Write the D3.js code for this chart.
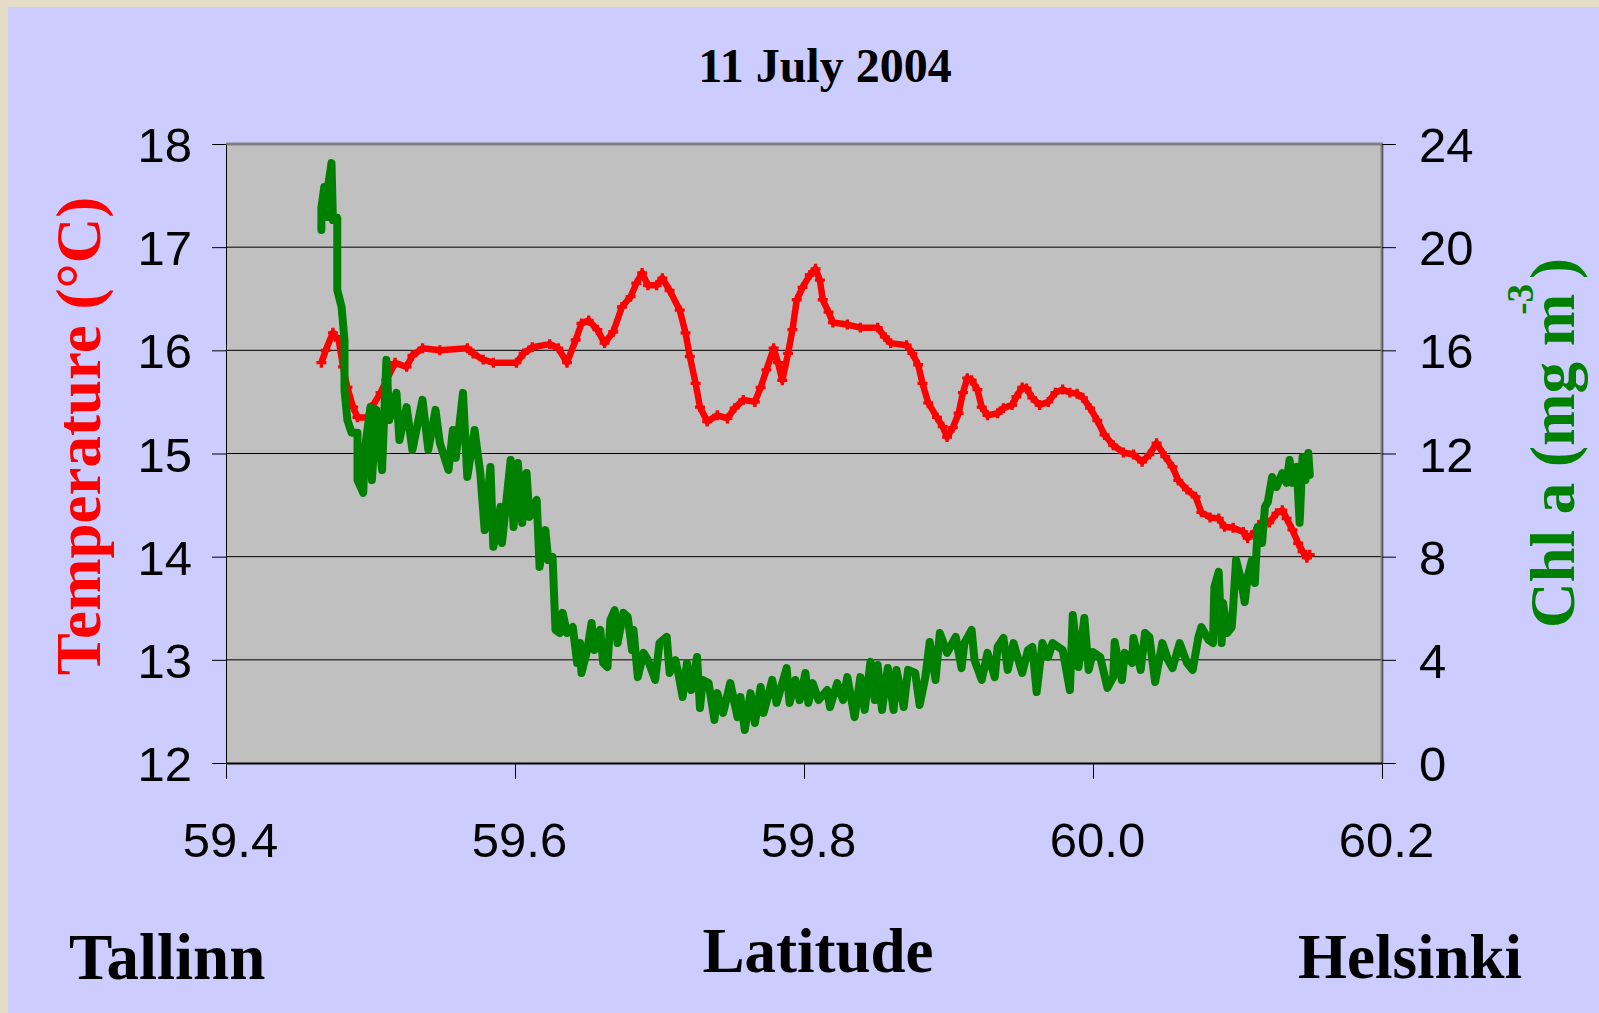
<!DOCTYPE html>
<html lang="en">
<head>
<meta charset="UTF-8">
<title>11 July 2004 - Temperature and Chl a, Tallinn - Helsinki</title>
<script src="https://d3js.org/d3.v7.min.js"></script>
<style>
    body { margin: 0; background: #e4dcc8; }
    svg { display: block; }
    .serif { font-family: "Liberation Serif", "Times New Roman", serif; font-weight: bold; }
    .tick text { font-family: "Liberation Sans", Arial, sans-serif; font-size: 49px; fill: #000; }
</style>
</head>
<body>
<div id="chart"></div>
<script>
// temperature along the ferry track (latitude, deg C)
const tempLat = [
    59.466, 59.469, 59.474, 59.478, 59.481, 59.484, 59.488, 59.491, 59.498, 59.501,
    59.507, 59.511, 59.517, 59.525, 59.529, 59.536, 59.548, 59.567, 59.571, 59.578,
    59.585, 59.601, 59.606, 59.612, 59.624, 59.630, 59.636, 59.642, 59.646, 59.651,
    59.657, 59.662, 59.668, 59.674, 59.680, 59.684, 59.688, 59.692, 59.698, 59.702,
    59.707, 59.714, 59.718, 59.721, 59.725, 59.728, 59.733, 59.740, 59.747, 59.752,
    59.758, 59.766, 59.770, 59.774, 59.779, 59.782, 59.785, 59.789, 59.792, 59.795,
    59.799, 59.804, 59.808, 59.811, 59.813, 59.817, 59.820, 59.830, 59.839, 59.851,
    59.856, 59.860, 59.871, 59.875, 59.879, 59.882, 59.886, 59.892, 59.896, 59.899,
    59.903, 59.907, 59.910, 59.913, 59.916, 59.920, 59.923, 59.927, 59.934, 59.938,
    59.944, 59.947, 59.951, 59.954, 59.958, 59.963, 59.969, 59.974, 59.979, 59.984,
    59.989, 59.993, 59.998, 60.003, 60.008, 60.014, 60.021, 60.028, 60.034, 60.039,
    60.044, 60.050, 60.055, 60.059, 60.065, 60.071, 60.075, 60.081, 60.087, 60.091,
    60.097, 60.104, 60.107, 60.112, 60.117, 60.122, 60.127, 60.131, 60.134, 60.138,
    60.142, 60.145, 60.148, 60.150
];
const tempVal = [
    15.88, 16.00, 16.17, 16.10, 15.84, 15.64, 15.45, 15.35, 15.35, 15.45,
    15.59, 15.71, 15.88, 15.84, 15.95, 16.02, 16.00, 16.02, 15.97, 15.91,
    15.88, 15.88, 15.97, 16.03, 16.06, 16.02, 15.88, 16.10, 16.26, 16.29,
    16.20, 16.07, 16.18, 16.42, 16.52, 16.65, 16.75, 16.63, 16.63, 16.70,
    16.58, 16.39, 16.17, 15.94, 15.68, 15.45, 15.31, 15.37, 15.34, 15.44,
    15.52, 15.50, 15.64, 15.81, 16.02, 15.88, 15.71, 15.97, 16.20, 16.49,
    16.61, 16.73, 16.79, 16.68, 16.49, 16.37, 16.27, 16.25, 16.22, 16.22,
    16.13, 16.07, 16.05, 15.97, 15.86, 15.68, 15.49, 15.35, 15.26, 15.16,
    15.25, 15.39, 15.59, 15.73, 15.71, 15.62, 15.45, 15.37, 15.39, 15.44,
    15.47, 15.55, 15.64, 15.63, 15.54, 15.47, 15.50, 15.59, 15.62, 15.59,
    15.58, 15.54, 15.44, 15.32, 15.18, 15.08, 15.01, 14.99, 14.92, 14.99,
    15.10, 14.97, 14.87, 14.74, 14.65, 14.58, 14.43, 14.38, 14.37, 14.29,
    14.28, 14.24, 14.18, 14.24, 14.34, 14.33, 14.42, 14.45, 14.37, 14.26,
    14.13, 14.05, 13.99, 14.02
];

// chlorophyll a along the same track (latitude, mg m-3)
const chlLat = [
    59.466, 59.466, 59.468, 59.470, 59.471, 59.473, 59.474, 59.477, 59.477, 59.480,
    59.482, 59.482, 59.484, 59.487, 59.491, 59.491, 59.495, 59.496, 59.500, 59.501,
    59.504, 59.508, 59.511, 59.513, 59.518, 59.520, 59.525, 59.529, 59.536, 59.540,
    59.545, 59.548, 59.554, 59.557, 59.559, 59.564, 59.567, 59.572, 59.576, 59.579,
    59.583, 59.585, 59.590, 59.591, 59.597, 59.599, 59.602, 59.605, 59.608, 59.610,
    59.615, 59.617, 59.621, 59.623, 59.626, 59.628, 59.631, 59.633, 59.636, 59.640,
    59.643, 59.645, 59.646, 59.650, 59.653, 59.655, 59.659, 59.661, 59.664, 59.666,
    59.669, 59.671, 59.675, 59.678, 59.681, 59.682, 59.685, 59.689, 59.692, 59.697,
    59.700, 59.705, 59.707, 59.711, 59.713, 59.716, 59.719, 59.722, 59.726, 59.728,
    59.730, 59.734, 59.738, 59.740, 59.744, 59.749, 59.754, 59.756, 59.759, 59.763,
    59.766, 59.770, 59.772, 59.778, 59.781, 59.785, 59.788, 59.790, 59.794, 59.797,
    59.801, 59.803, 59.806, 59.810, 59.816, 59.818, 59.823, 59.827, 59.830, 59.835,
    59.839, 59.842, 59.846, 59.849, 59.851, 59.854, 59.858, 59.862, 59.864, 59.869,
    59.872, 59.877, 59.880, 59.884, 59.887, 59.891, 59.894, 59.899, 59.905, 59.909,
    59.911, 59.916, 59.918, 59.923, 59.927, 59.932, 59.934, 59.938, 59.941, 59.945,
    59.951, 59.955, 59.958, 59.961, 59.965, 59.969, 59.972, 59.979, 59.984, 59.986,
    59.990, 59.994, 59.997, 60.000, 60.005, 60.010, 60.014, 60.015, 60.020, 60.022,
    60.027, 60.028, 60.033, 60.036, 60.039, 60.043, 60.048, 60.052, 60.055, 60.060,
    60.065, 60.069, 60.073, 60.075, 60.080, 60.083, 60.084, 60.087, 60.089, 60.090,
    60.093, 60.096, 60.097, 60.099, 60.102, 60.105, 60.107, 60.110, 60.112, 60.114,
    60.117, 60.119, 60.121, 60.124, 60.127, 60.131, 60.134, 60.136, 60.138, 60.141,
    60.143, 60.145, 60.147, 60.149, 60.150
];
const chlVal = [
    20.67, 21.52, 22.33, 21.17, 22.49, 23.26, 21.05, 21.13, 18.34, 17.68,
    16.40, 14.46, 13.30, 12.80, 12.80, 10.97, 10.47, 12.14, 13.80, 10.97,
    13.69, 11.36, 15.63, 13.30, 14.35, 12.52, 13.80, 12.14, 14.08, 12.14,
    13.69, 12.41, 11.36, 12.91, 11.83, 14.35, 11.09, 12.91, 11.24, 9.03,
    11.48, 8.38, 9.93, 8.53, 11.75, 9.15, 11.63, 9.31, 11.24, 9.54,
    10.20, 7.60, 9.03, 7.87, 7.99, 5.16, 5.04, 5.82, 5.04, 5.27,
    3.88, 4.65, 3.49, 4.38, 5.43, 4.38, 5.16, 3.88, 3.72, 5.54,
    5.93, 4.65, 5.82, 5.66, 4.38, 5.16, 3.33, 4.27, 3.99, 3.22,
    4.65, 4.89, 3.49, 3.99, 3.49, 2.56, 3.88, 2.83, 4.11, 2.13,
    3.22, 3.10, 1.67, 2.71, 1.94, 3.10, 1.78, 2.56, 1.28, 2.71,
    1.55, 2.95, 1.94, 3.22, 2.33, 3.10, 3.68, 2.33, 3.22, 2.44,
    3.49, 2.33, 3.10, 2.44, 2.83, 2.17, 3.10, 2.44, 3.33, 1.78,
    3.33, 2.06, 3.92, 2.44, 3.80, 2.06, 3.68, 2.06, 3.61, 2.17,
    3.61, 3.49, 2.25, 3.33, 4.69, 3.22, 5.04, 4.27, 4.89, 3.68,
    4.65, 5.16, 3.99, 3.22, 4.27, 3.33, 4.50, 4.85, 3.61, 4.65,
    3.49, 4.38, 4.50, 2.75, 4.65, 4.11, 4.65, 4.38, 2.83, 5.74,
    3.72, 5.62, 3.61, 4.30, 4.11, 2.91, 3.33, 4.69, 3.22, 4.27,
    3.88, 4.85, 3.61, 5.04, 4.89, 3.14, 4.65, 3.99, 3.68, 4.65,
    3.88, 3.61, 4.89, 5.27, 4.77, 4.65, 6.82, 7.41, 4.65, 6.20,
    5.04, 5.27, 6.05, 7.87, 7.21, 6.24, 7.21, 7.87, 6.98, 9.15,
    8.53, 9.93, 10.12, 11.09, 10.70, 11.24, 10.86, 11.75, 10.86, 11.48,
    9.31, 11.86, 10.97, 12.02, 11.17
];

const latTicks = [59.4, 59.6, 59.8, 60.0, 60.2];
const tempTicks = [12, 13, 14, 15, 16, 17, 18];
const chlTicks = [0, 4, 8, 12, 16, 20, 24];

const W = 1599, H = 1013;
const plot = { left: 226, right: 1382, top: 144, bottom: 763 };

const svg = d3.select("#chart").append("svg")
    .attr("width", W)
    .attr("height", H);

// beige page edge + lavender panel
svg.append("rect").attr("width", W).attr("height", H).attr("fill", "#e4dcc8");
svg.append("rect").attr("x", 8).attr("y", 7).attr("width", W - 8).attr("height", H - 7).attr("fill", "#ccccff");

const x = d3.scaleLinear().domain([59.4, 60.2]).range([plot.left, plot.right]);
const yT = d3.scaleLinear().domain([12, 18]).range([plot.bottom, plot.top]);
const yC = d3.scaleLinear().domain([0, 24]).range([plot.bottom, plot.top]);

// plot area
svg.append("rect")
    .attr("x", plot.left).attr("y", plot.top)
    .attr("width", plot.right - plot.left).attr("height", plot.bottom - plot.top)
    .attr("fill", "#c0c0c0");

// horizontal gridlines on the temperature ticks
svg.append("g").selectAll("line")
    .data(tempTicks.slice(1, -1))
    .join("line")
    .attr("x1", plot.left).attr("x2", plot.right)
    .attr("y1", d => yT(d)).attr("y2", d => yT(d))
    .attr("stroke", "#000").attr("stroke-width", 1);

// grey frame top and right
svg.append("line")
    .attr("x1", plot.left).attr("x2", plot.right + 1)
    .attr("y1", plot.top).attr("y2", plot.top)
    .attr("stroke", "#808080").attr("stroke-width", 3);
svg.append("line")
    .attr("x1", plot.right).attr("x2", plot.right)
    .attr("y1", plot.top).attr("y2", plot.bottom)
    .attr("stroke", "#808080").attr("stroke-width", 3);

// axes
const leftAxis = svg.append("g")
    .attr("transform", `translate(${plot.left},0)`)
    .call(d3.axisLeft(yT).tickValues(tempTicks).tickSize(14).tickSizeOuter(0).tickFormat(d3.format("d")));
leftAxis.selectAll(".tick text")
    .attr("x", -34).attr("dy", "0.36em");

const rightAxis = svg.append("g")
    .attr("transform", `translate(${plot.right},0)`)
    .call(d3.axisRight(yC).tickValues(chlTicks).tickSize(14).tickSizeOuter(0).tickFormat(d3.format("d")));
rightAxis.selectAll(".tick text")
    .attr("x", 37).attr("dy", "0.36em");
rightAxis.select(".domain").attr("stroke", "#555");

const bottomAxis = svg.append("g")
    .attr("transform", `translate(0,${plot.bottom})`)
    .call(d3.axisBottom(x).tickValues(latTicks).tickSize(16).tickSizeOuter(0).tickFormat(d3.format(".1f")));
bottomAxis.selectAll(".tick text")
    .attr("x", 4).attr("y", 94).attr("dy", 0);
bottomAxis.select(".domain").attr("stroke-width", 2);

svg.selectAll(".tick line").attr("stroke", "#000");

// temperature line (red, jagged marker look)
const tempData = tempLat.map((d, i) => [d, tempVal[i]]);
const tempLine = d3.line().x(d => x(d[0])).y(d => yT(d[1]));
svg.append("path")
    .datum(tempData)
    .attr("d", tempLine)
    .attr("fill", "none")
    .attr("stroke", "#ff0000")
    .attr("stroke-width", 6.5)
    .attr("stroke-linejoin", "round");
svg.append("g").selectAll("path")
    .data(tempData)
    .join("path")
    .attr("transform", d => `translate(${x(d[0])},${yT(d[1])})`)
    .attr("d", d3.symbol(d3.symbolCross, 55))
    .attr("fill", "#ff0000");

// chl a line (green)
const chlData = chlLat.map((d, i) => [d, chlVal[i]]);
svg.append("path")
    .datum(chlData)
    .attr("d", d3.line().x(d => x(d[0])).y(d => yC(d[1])))
    .attr("fill", "none")
    .attr("stroke", "#008000")
    .attr("stroke-width", 8)
    .attr("stroke-linejoin", "round")
    .attr("stroke-linecap", "round");

// texts
svg.append("text").attr("class", "serif")
    .attr("x", 825).attr("y", 82)
    .attr("text-anchor", "middle")
    .attr("font-size", 48)
    .text("11 July 2004");

svg.append("text").attr("class", "serif")
    .attr("x", 69).attr("y", 979)
    .attr("font-size", 65)
    .text("Tallinn");

svg.append("text").attr("class", "serif")
    .attr("x", 818).attr("y", 972)
    .attr("text-anchor", "middle")
    .attr("font-size", 63)
    .text("Latitude");

svg.append("text").attr("class", "serif")
    .attr("x", 1298).attr("y", 978)
    .attr("font-size", 63)
    .text("Helsinki");

svg.append("text").attr("class", "serif")
    .attr("transform", "translate(100,436) rotate(-90)")
    .attr("text-anchor", "middle")
    .attr("font-size", 63)
    .attr("fill", "#ff0000")
    .text("Temperature (°C)");

const chlLabel = svg.append("text").attr("class", "serif")
    .attr("transform", "translate(1574,628) rotate(-90)")
    .attr("font-size", 63)
    .attr("fill", "#008000");
chlLabel.append("tspan").text("Chl a (mg m");
chlLabel.append("tspan")
    .attr("font-size", 37)
    .attr("dx", -21).attr("dy", -41)
    .text("-3");
chlLabel.append("tspan")
    .attr("dx", 5).attr("dy", 41)
    .text(")");
</script>
</body>
</html>
